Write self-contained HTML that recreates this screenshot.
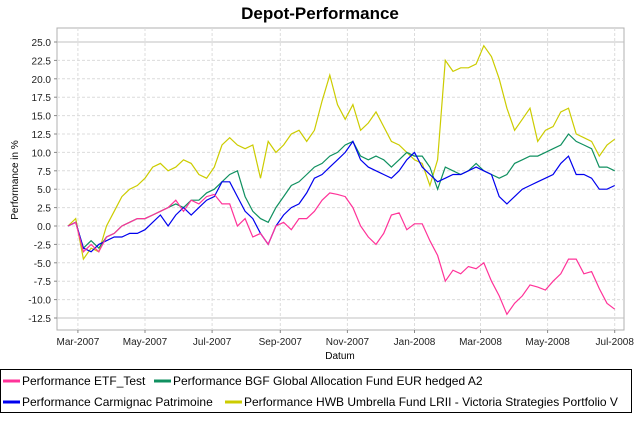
<!DOCTYPE html>
<html><head><meta charset="utf-8"><style>
body{margin:0;background:#fff;width:640px;height:419px;overflow:hidden;font-family:"Liberation Sans",sans-serif}
svg text{font-family:"Liberation Sans",sans-serif}
</style></head><body>
<svg id="chart" width="640" height="419" xmlns="http://www.w3.org/2000/svg">
<text x="320" y="19" text-anchor="middle" font-size="17" font-weight="bold">Depot-Performance</text>
<rect x="57" y="28" width="567" height="302" fill="#fff" stroke="#b0b0b0"/>
<g id="grid"></g><g id="series"></g><g id="axes"></g>
<text transform="translate(18,180) rotate(-90)" text-anchor="middle" font-size="10">Performance in %</text>
<text x="340" y="359" text-anchor="middle" font-size="10">Datum</text>
<g>
<rect x="0.5" y="369.5" width="631" height="43" fill="#fff" stroke="#000"/>
<line x1="3" y1="381" x2="20" y2="381" stroke="#ff3399" stroke-width="3"/>
<text x="22" y="385" font-size="12">Performance ETF_Test</text>
<line x1="154" y1="381" x2="171" y2="381" stroke="#109060" stroke-width="3"/>
<text x="173" y="385" font-size="12">Performance BGF Global Allocation Fund EUR hedged A2</text>
<line x1="3" y1="402" x2="20" y2="402" stroke="#0000ee" stroke-width="3"/>
<text x="22" y="406" font-size="12">Performance Carmignac Patrimoine</text>
<line x1="225" y1="402" x2="242" y2="402" stroke="#cccc00" stroke-width="3"/>
<text x="244" y="406" font-size="12">Performance HWB Umbrella Fund LRII - Victoria Strategies Portfolio V</text>
</g>
</svg>
<script>
const startDate = "2007-02-20";
const pointCount = 72;
const etfTest = [0,0.5,-3.5,-2.5,-3.5,-1.5,-1,0,0.5,1,1,1.5,2,2.5,3.5,2,3.5,3,4,4.3,3,3,0,1,-1.5,-1,-2.5,0,0.5,-0.5,1,1,2,3.5,4.5,4.3,4,2.5,0,-1.5,-2.5,-1,1.5,1.8,-0.5,0.3,0.3,-2,-4,-7.5,-6,-6.5,-5.5,-5.8,-5,-7.5,-9.5,-12,-10.5,-9.5,-8,-8.3,-8.7,-7.5,-6.5,-4.5,-4.5,-6.5,-6.2,-8.5,-10.5,-11.3];
const bgf = [0,0.5,-3,-2,-3,-1.5,-1,0,0.5,1,1,1.5,2,2.5,3,2.5,3.5,3.5,4.5,5,6,7,7.5,4,2,1,0.5,2.5,4,5.5,6,7,8,8.5,9.5,10,11,11.5,9.5,9,9.5,9,8,9,10,9.5,9.5,8,5,8,7.5,7,7.5,8.5,7.5,7,6.5,7,8.5,9,9.5,9.5,10,10.5,11,12.5,11.5,11,10.5,8,8,7.5];
const carmignac = [0,0.5,-3,-3.5,-2.5,-2,-1.5,-1.5,-1,-1,-0.5,0.5,1.5,0,1.5,2.5,1.5,2.5,3.5,4,6,6,4,2,1,-1,-2.5,0,1.5,2.5,3,4.5,6.5,7,8,9,10,11.5,9,8,7.5,7,6.5,7.5,9,10,8,7,6,6.5,7,7,7.5,8,7.5,7,4,3,4,5,5.5,6,6.5,7,8.5,9.5,7,7,6.5,5,5,5.5];
const hwb = [0,1,-4.5,-3,-3.5,0,2,4,5,5.5,6.5,8,8.5,7.5,8,9,8.5,7,6.5,8,11,12,11,10.5,11,6.5,11.5,10,11,12.5,13,11.5,13,17,20.5,16.5,14.5,16.5,13,14,15.5,13.5,11.5,11,10,9,8.5,5.5,9,22.5,21,21.5,21.5,22,24.5,23,20,16,13,14.5,16,11.5,13,13.5,15.5,16,12.5,12,11.5,9.5,11,11.8];
const yTicks = [25,22.5,20,17.5,15,12.5,10,7.5,5,2.5,0,-2.5,-5,-7.5,-10,-12.5];
const xTickLabels = ["Mar-2007","May-2007","Jul-2007","Sep-2007","Nov-2007","Jan-2008","Mar-2008","May-2008","Jul-2008"];
const xTickDates = ["2007-03-01","2007-05-01","2007-07-01","2007-09-01","2007-11-01","2008-01-01","2008-03-01","2008-05-01","2008-07-01"];

const NS="http://www.w3.org/2000/svg";
const t0=Date.parse(startDate);
const DAY=86400000;
function xScale(ms){return 68+1.1*(ms-t0)/DAY;}
function yScale(v){return 226-v*7.36;}
const dates=[];for(let i=0;i<pointCount;i++)dates.push(t0+i*7*DAY);
function mk(tag,attrs,parent){const e=document.createElementNS(NS,tag);for(const k in attrs)e.setAttribute(k,attrs[k]);parent.appendChild(e);return e;}
const grid=document.getElementById('grid'),axes=document.getElementById('axes'),ser=document.getElementById('series');
yTicks.forEach(v=>{const y=yScale(v);
 const solid=(v===25||v===-12.5);
 const l=mk('line',{x1:57,x2:624,y1:y,y2:y,stroke:solid?'#c0c0c0':'#dcdcdc','stroke-dasharray':solid?'':'3,2'},grid);
 
 
 const t=mk('text',{x:51,y:y+4,'text-anchor':'end','font-size':'10',fill:'#222'},axes);
 t.textContent=v.toFixed(1);
 
 
 mk('line',{x1:54,x2:57,y1:y,y2:y,stroke:'#888'},axes);
});
xTickDates.forEach((d,i)=>{const x=xScale(Date.parse(d));
 const l=mk('line',{x1:x,x2:x,y1:28,y2:330,stroke:'#dcdcdc','stroke-dasharray':'3,2'},grid);
 
 
 mk('line',{x1:x,x2:x,y1:330,y2:333,stroke:'#888'},axes);
 const t=mk('text',{x:x,y:345,'text-anchor':'middle','font-size':'10',fill:'#222'},axes);
 t.textContent=xTickLabels[i];
 
 
});
const list=[[hwb,'#cccc00','line-hwb'],[bgf,'#109060','line-bgf'],[carmignac,'#0000ee','line-carmignac'],[etfTest,'#ff3399','line-etf-test']];
list.forEach(([vals,c,n])=>{
 const pts=vals.map((v,i)=>xScale(dates[i]).toFixed(1)+','+yScale(v).toFixed(1)).join(' ');
 const p=mk('polyline',{points:pts,fill:'none',stroke:c,'stroke-width':'1.2'},ser);
 
 
});
</script>
</body></html>
